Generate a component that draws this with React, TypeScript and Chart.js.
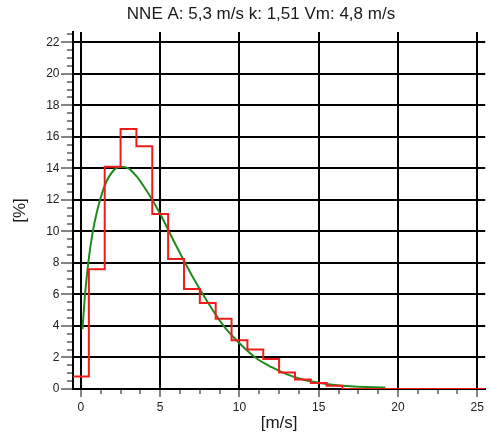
import { useEffect, useRef } from 'react';
import { Chart, registerables } from 'chart.js';

Chart.register(...registerables);

// ---- text ----
const TITLE = 'NNE A: 5,3 m/s k: 1,51 Vm: 4,8 m/s';
const X_TITLE = '[m/s]';
const Y_TITLE = '[%]';

// ---- histogram (bins of 1 m/s centred on integers), % ----
const binCenters = [0, 1, 2, 3, 4, 5, 6, 7, 8, 9, 10, 11, 12, 13, 14, 15, 16, 17, 18, 19, 20, 21, 22, 23, 24, 25];
const binValues = [0.8, 7.6, 14.1, 16.5, 15.4, 11.1, 8.25, 6.35, 5.45, 4.45, 3.1, 2.5, 1.9, 1.05, 0.6, 0.38, 0.2, 0, 0, 0, 0, 0, 0, 0, 0, 0];

// ---- fitted distribution curve, % ----
const curveSpeeds = [0.1, 0.25, 0.5, 0.75, 1, 1.5, 2, 2.5, 3, 3.5, 4, 4.5, 5, 6, 7, 8, 9, 10, 11, 12, 13, 14, 15, 16, 17, 18, 19, 19.2];
const curveValues = [3.8, 5.9, 8.3, 10.0, 11.2, 12.9, 13.8, 14.1, 14.0, 13.5, 12.8, 12.0, 11.1, 9.1, 7.2, 5.5, 4.0, 2.9, 2.0, 1.4, 0.93, 0.6, 0.4, 0.26, 0.17, 0.12, 0.1, 0.1];

// ---- axes ----
const X_MIN = -0.5;
const X_MAX = 25.5;
const X_MAJOR = 5;
const X_MINOR = 1.25;
const Y_MIN = 0;
const Y_MAX = 22.65;
const Y_MAJOR = 2;
const Y_MINOR = 0.5;

const FONT = '"Liberation Sans", Arial, sans-serif';

const isMultiple = (v: number, step: number) => Math.abs(v / step - Math.round(v / step)) < 1e-6;

const tickMarksPlugin = {
  id: 'tickMarks',
  afterDraw(chart: any) {
    const { ctx, chartArea, scales } = chart;
    const x = scales.x;
    const y = scales.y;
    ctx.save();
    ctx.strokeStyle = '#858585';
    ctx.lineWidth = 2;
    ctx.beginPath();
    x.ticks.forEach((t: any) => {
      const px = Math.round(x.getPixelForValue(t.value));
      const len = isMultiple(t.value, X_MAJOR) ? 8 : 5;
      ctx.moveTo(px, chartArea.bottom + 1);
      ctx.lineTo(px, chartArea.bottom + len);
    });
    y.ticks.forEach((t: any) => {
      const py = Math.round(y.getPixelForValue(t.value));
      const len = isMultiple(t.value, Y_MAJOR) ? 12 : 6;
      ctx.moveTo(chartArea.left - 1, py);
      ctx.lineTo(chartArea.left - len, py);
    });
    ctx.stroke();
    ctx.restore();
  },
};

const titlePlugin = {
  id: 'topTitle',
  afterDraw(chart: any) {
    const { ctx } = chart;
    ctx.save();
    ctx.font = `17px ${FONT}`;
    ctx.fillStyle = '#1a1a1a';
    ctx.textAlign = 'center';
    ctx.textBaseline = 'alphabetic';
    ctx.fillText(TITLE, 261, 18.5);
    ctx.restore();
  },
};

export default function App() {
  const canvasRef = useRef<HTMLCanvasElement | null>(null);

  useEffect(() => {
    if (!canvasRef.current) return;

    const histData = binCenters.map((c, i) => ({ x: c - 0.5, y: binValues[i] }));
    histData.push({ x: binCenters[binCenters.length - 1] + 0.5, y: binValues[binValues.length - 1] });
    const curveData = curveSpeeds.map((s, i) => ({ x: s, y: curveValues[i] }));

    const chart = new Chart(canvasRef.current, {
      type: 'line',
      data: {
        datasets: [
          {
            label: 'Histogram',
            data: histData,
            stepped: 'before',
            borderColor: '#f01c1c',
            borderWidth: 2,
            pointRadius: 0,
            fill: false,
          },
          {
            label: 'Weibull',
            data: curveData,
            borderColor: '#1f8a1f',
            borderWidth: 2,
            pointRadius: 0,
            tension: 0.3,
            cubicInterpolationMode: 'monotone',
            fill: false,
          },
        ],
      },
      options: {
        animation: false,
        responsive: false,
        parsing: true,
        layout: { padding: { top: 32, right: 2, bottom: 0, left: 0 } },
        plugins: {
          legend: { display: false },
          tooltip: { enabled: false },
          title: { display: false },
        },
        scales: {
          x: {
            type: 'linear',
            min: X_MIN,
            max: X_MAX,
            afterFit: (s: any) => {
              s.height = 52;
            },
            ticks: {
              stepSize: X_MINOR,
              includeBounds: false,
              autoSkip: false,
              maxRotation: 0,
              minRotation: 0,
              padding: 11,
              color: '#222',
              font: { family: FONT, size: 12 },
              callback: (v: any) => (isMultiple(Number(v), X_MAJOR) ? String(v) : ''),
            },
            grid: {
              drawTicks: false,
              lineWidth: 2,
              color: (c: any) => (c.tick && isMultiple(c.tick.value, X_MAJOR) ? '#000' : 'rgba(0,0,0,0)'),
            },
            border: { display: true, color: '#000', width: 2 },
            title: {
              display: true,
              text: X_TITLE,
              color: '#1a1a1a',
              font: { family: FONT, size: 17 },
              padding: { top: 0, bottom: 7 },
            },
          },
          y: {
            type: 'linear',
            min: Y_MIN,
            max: Y_MAX,
            afterFit: (s: any) => {
              s.width = 73;
            },
            ticks: {
              stepSize: Y_MINOR,
              includeBounds: false,
              autoSkip: false,
              padding: 13.5,
              color: '#222',
              font: { family: FONT, size: 12 },
              callback: (v: any) => (isMultiple(Number(v), Y_MAJOR) ? String(v) : ''),
            },
            grid: {
              drawTicks: false,
              lineWidth: 2,
              color: (c: any) => (c.tick && isMultiple(c.tick.value, Y_MAJOR) ? '#000' : 'rgba(0,0,0,0)'),
            },
            border: { display: true, color: '#000', width: 2 },
            title: {
              display: true,
              text: Y_TITLE,
              color: '#1a1a1a',
              font: { family: FONT, size: 17 },
              padding: { top: 10, bottom: 0 },
            },
          },
        },
      },
      plugins: [tickMarksPlugin, titlePlugin],
    } as any);

    return () => {
      chart.destroy();
    };
  }, []);

  return (
    <div style={{ position: 'absolute', left: 0, top: 0, width: 495, height: 441, background: '#fff' }}>
      <canvas ref={canvasRef} width={495} height={441} style={{ width: 495, height: 441, display: 'block' }} />
    </div>
  );
}
